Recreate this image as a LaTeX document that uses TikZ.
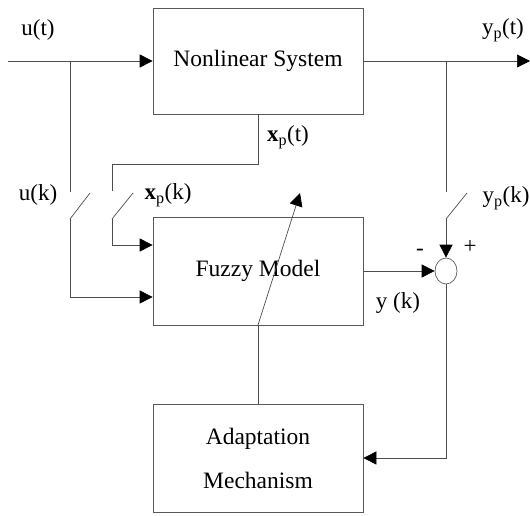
\documentclass[tikz,border=0pt]{standalone}
\usepackage{fontspec}
\setmainfont{Liberation Serif}
\usetikzlibrary{arrows.meta,shapes.geometric}
\begin{document}
\begin{tikzpicture}[x=1pt,y=-1pt,
  ln/.style={draw=black!70,line width=0.7pt},
  arr/.style={ln,-{Triangle[length=13pt,width=13pt,color=black]}},
  blk/.style={draw=black!65,line width=0.7pt,rectangle,minimum width=210pt,inner sep=0pt,font=\fontsize{23.5}{28}\selectfont,align=center},
  lbl/.style={font=\fontsize{23}{26}\selectfont,inner sep=0pt}]
\useasboundingbox (0,0) rectangle (530,516);
% blocks
\node[blk,minimum height=106pt] (ns) at (258,61) {Nonlinear System};
\node[blk,minimum height=108pt] (fm) at (258,271) {Fuzzy Model};
\node[blk,minimum height=108pt] (am) at (258,458) {Adaptation\\[16pt]Mechanism};
\node[ellipse,draw=black!65,line width=0.7pt,minimum width=22pt,minimum height=26pt,inner sep=0pt] (sum) at (446,271) {};
% coordinates
\coordinate (uin) at (8,61);
\coordinate (uj) at (70,61);
\coordinate (uk1) at (70,192);
\coordinate (uk2) at (70,219);
\coordinate (uk3) at (90,193);
\coordinate (ukc) at (70,297);
\coordinate (xp0) at (258,114);
\coordinate (xp1) at (258,164);
\coordinate (xp2) at (112,164);
\coordinate (xp3) at (112,191);
\coordinate (xp4) at (112,219);
\coordinate (xp5) at (133,193);
\coordinate (xpc) at (112,245);
\coordinate (yout) at (530,61);
\coordinate (yj) at (446,61);
\coordinate (yk1) at (446,192);
\coordinate (yk2) at (446,219);
\coordinate (yk3) at (467,193);
\coordinate (eb) at (446,458);
\coordinate (fb) at (258,325);
\coordinate (tip) at (300,193);
% u(t)
\draw[arr] (uin) -- (ns.west);
\draw[ln] (uj) -- (uk1);
\draw[ln] (uk2) -- (uk3);
\draw[arr] (uk2) -- (ukc) -- (ukc -| fm.west);
% x_p
\draw[ln] (xp0) -- (xp1) -- (xp2) -- (xp3);
\draw[ln] (xp4) -- (xp5);
\draw[arr] (xp4) -- (xpc) -- (xpc -| fm.west);
% y_p
\draw[arr] (ns.east) -- (yout);
\draw[ln] (yj) -- (yk1);
\draw[ln] (yk2) -- (yk3);
\draw[arr] (yk2) -- (sum.north);
% model output
\draw[arr] (fm.east) -- (sum.west);
% error to adaptation
\draw[arr] (sum.south) -- (eb) -- (am.east);
% adaptation to model
\draw[ln] (am.north) -- (fb);
\draw[arr] (fb) -- (tip);
% labels
\node[lbl] (lut) at (38,30) {u(t)};
\node[lbl] (luk) at (38,195) {u(k)};
\node[lbl] (lxk) at (168,195) {\textbf{x}\textsubscript{p}(k)};
\node[lbl] (lxt) at (288,137) {\textbf{x}\textsubscript{p}(t)};
\node[lbl] (lyt) at (503,30) {y\textsubscript{p}(t)};
\node[lbl] (lyk) at (506,198) {y\textsubscript{p}(k)};
\node[lbl] (lyy) at (398,303) {y (k)};
\node[lbl] (lmi) at (420,252) {-};
\node[lbl] (lpl) at (470,247) {+};
\end{tikzpicture}
\end{document}
